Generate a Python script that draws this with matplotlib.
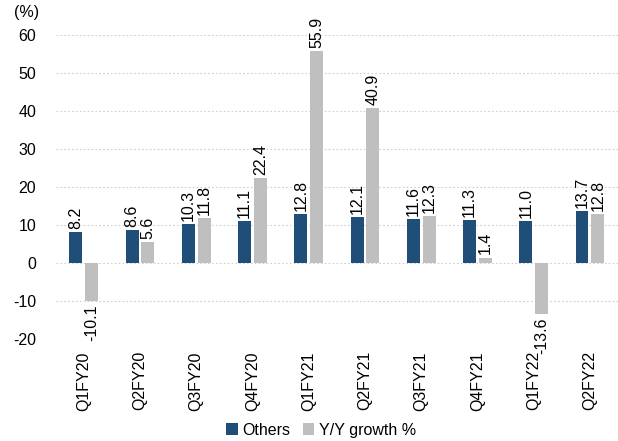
import matplotlib
matplotlib.use('Agg')
import matplotlib.pyplot as plt
import numpy as np

plt.rcParams['font.family'] = ['Liberation Sans Narrow', 'Liberation Sans', 'DejaVu Sans']
plt.rcParams['axes.unicode_minus'] = False

# 数据
quarters = ['Q1FY20', 'Q2FY20', 'Q3FY20', 'Q4FY20', 'Q1FY21', 'Q2FY21',
            'Q3FY21', 'Q4FY21', 'Q1FY22', 'Q2FY22']
others = [8.2, 8.6, 10.3, 11.1, 12.8, 12.1, 11.6, 11.3, 11.0, 13.7]
yoy_growth = [-10.1, 5.6, 11.8, 22.4, 55.9, 40.9, 12.3, 1.4, -13.6, 12.8]

dark = '#1f4e79'
grey = '#bfbfbf'

fig = plt.figure(figsize=(6.18, 4.41), dpi=100)
ax = fig.add_axes([0.09, 0.232, 0.91, 0.688])

x = np.arange(len(quarters))
w = 0.23
off = 0.14

ax.bar(x - off, others, width=w, color=dark, label='Others', zorder=3)
ax.bar(x + off, yoy_growth, width=w, color=grey, label='Y/Y growth %', zorder=3)

# 数据标签
for i in range(len(quarters)):
    for xi, v in [(x[i] - off, others[i]), (x[i] + off, yoy_growth[i])]:
        if v >= 0:
            ax.text(xi, v + 0.8, f'{v:.1f}', rotation=90, ha='center', va='bottom', fontsize=11.5)
        else:
            ax.text(xi, v - 0.8, f'{v:.1f}', rotation=90, ha='center', va='top', fontsize=11.5)

ax.set_ylim(-20, 60)
ax.set_yticks(range(-20, 61, 10))
ax.set_xlim(-0.5, len(quarters) - 0.5)
ax.set_xticks(x)
ax.set_xticklabels(quarters, rotation=90, fontsize=11.5)
ax.tick_params(axis='y', labelsize=11.5, length=0, pad=14)
ax.tick_params(axis='x', length=0, pad=9)

ax.grid(axis='y', color='#d0d0d0', linestyle=(0, (1.5, 2)), linewidth=0.8, zorder=0)
for s in ax.spines.values():
    s.set_visible(False)

fig.text(0.022, 0.955, '(%)', fontsize=11.5, ha='left', va='bottom')

fig.legend(loc='lower center', bbox_to_anchor=(0.52, -0.025), ncol=2, frameon=False,
           fontsize=11.5, handlelength=0.7, handleheight=0.7, handletextpad=0.3, columnspacing=0.8)

fig.savefig('out.png', dpi=100)
